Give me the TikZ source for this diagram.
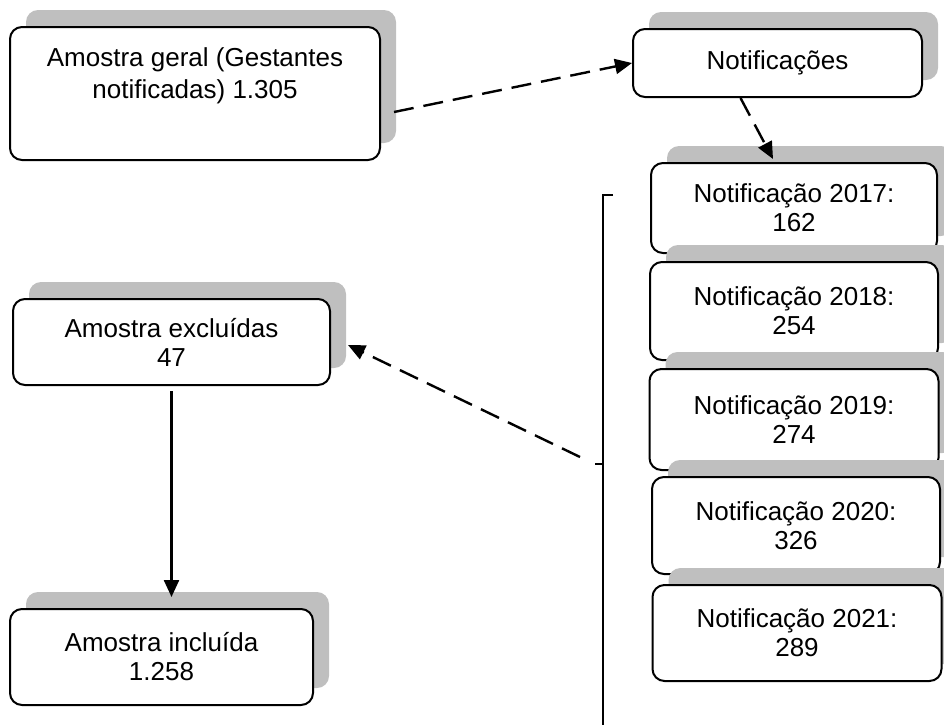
\documentclass[tikz,border=0pt]{standalone}
\usepackage{fontspec}
\setmainfont{Liberation Sans}
\usepackage{tikz}
\usetikzlibrary{arrows.meta, positioning, shadows, calc}

\begin{document}
\begin{tikzpicture}[x=1pt, y=-1pt]
\tikzstyle{box}=[rectangle, draw, line width=2pt, fill=white, rounded corners=12pt, align=center, inner sep=0pt,
  font=\fontsize{26}{29}\selectfont,
  drop shadow={shadow xshift=16pt, shadow yshift=17pt, fill=black!25, opacity=1}]
\tikzstyle{arrow}=[-{Triangle[length=17pt, width=15pt]}, line width=2.4pt]
\tikzstyle{dasharrow}=[arrow, dash pattern=on 20pt off 10pt]

\useasboundingbox (0,0) rectangle (944,726);

\node[box, minimum width=370pt, minimum height=133pt, text depth=40pt, font=\fontsize{26}{32}\selectfont] (geral) at (195,93.5) {Amostra geral (Gestantes\\ notificadas) 1.305};
\node[box, minimum width=289pt, minimum height=68pt] (notif) at (777.5,63) {Notificações};
\node[box, minimum width=286pt, minimum height=90pt] (n2017) at (794,208) {Notificação 2017:\\ 162};
\node[box, minimum width=288pt, minimum height=98pt, below=7pt of n2017] (n2018) {Notificação 2018:\\ 254};
\node[box, minimum width=289pt, minimum height=101pt, below=7pt of n2018] (n2019) {Notificação 2019:\\ 274};
\node[box, minimum width=288pt, minimum height=97pt, below=5pt of n2019, xshift=2pt] (n2020) {Notificação 2020:\\ 326};
\node[box, minimum width=289pt, minimum height=96pt, below=9pt of n2020, xshift=1pt] (n2021) {Notificação 2021:\\ 289};
\node[box, minimum width=317pt, minimum height=86pt] (excl) at (171.5,342) {Amostra excluídas\\ 47};
\node[box, minimum width=303pt, minimum height=96pt] (incl) at (161.5,657) {Amostra incluída\\ 1.258};

% bracket
\coordinate (btop) at (603,195);
\coordinate (bmid) at (603,464);
\coordinate (bbot) at (603,725);
\draw[line width=1.6pt] ([xshift=10pt]btop) -- (btop) -- (bbot);
\draw[line width=1.6pt] ([xshift=-8pt]bmid) -- (bmid);

\draw[dasharrow] ([shift={(13pt,-18.5pt)}]geral.east) -- (notif.west);
\draw[dasharrow] ([xshift=-37pt]notif.south) -- ([xshift=-21pt, yshift=3pt]n2017.north);
\draw[dasharrow] ([shift={(-23pt,7pt)}]bmid) -- ([shift={(17pt,-3pt)}]excl.east);
\draw[arrow, shorten <=5pt, shorten >=11pt] (excl.south) -- (excl.south |- incl.north);

\end{tikzpicture}
\end{document}
